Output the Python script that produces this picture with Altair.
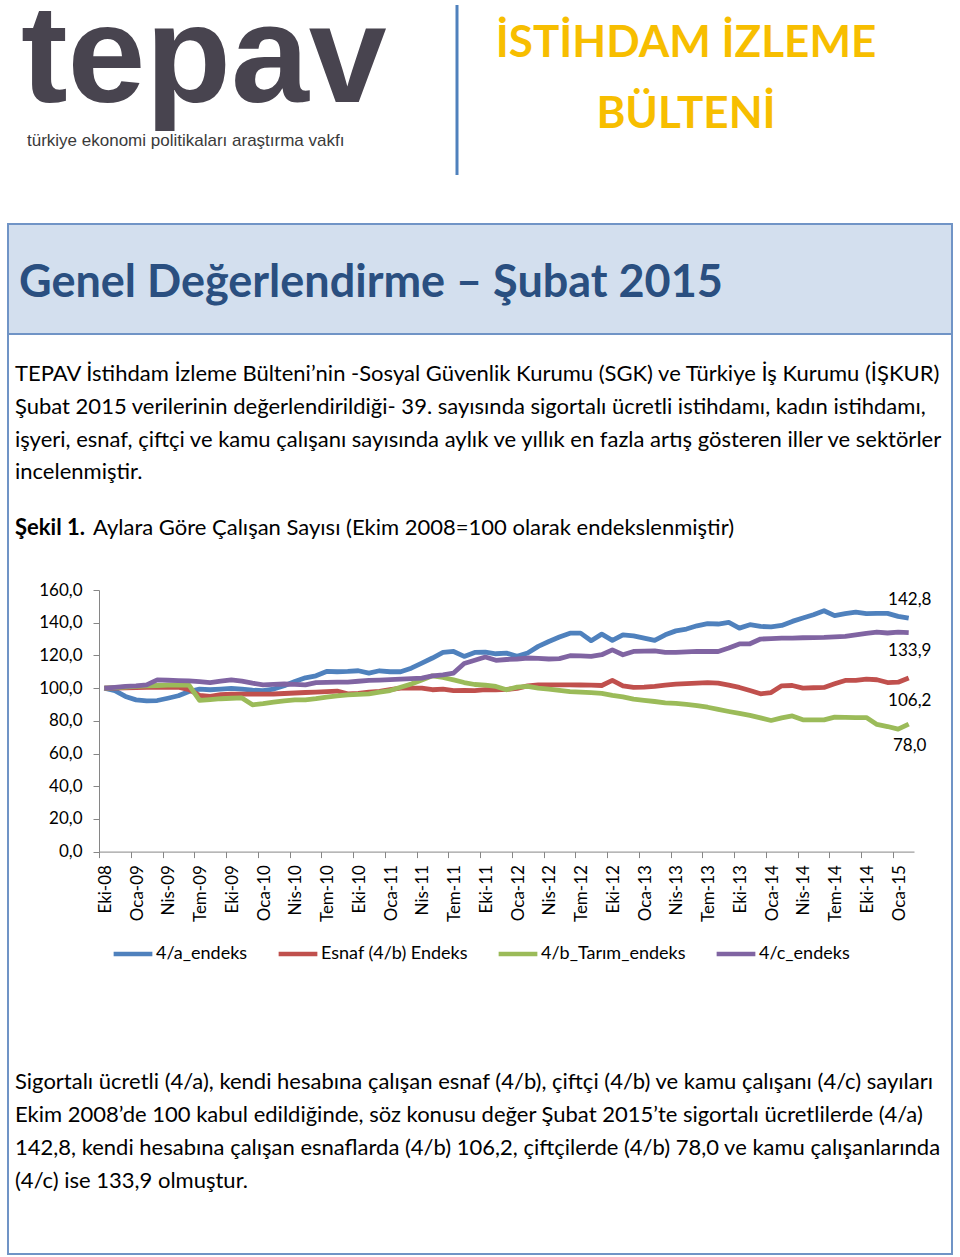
import altair as alt
import pandas as pd

# ---------------- data ----------------
months = (
    ["Eki-08", "Kas-08", "Ara-08"]
    + ["Oca-09", "Şub-09", "Mar-09", "Nis-09", "May-09", "Haz-09", "Tem-09", "Ağu-09", "Eyl-09", "Eki-09", "Kas-09", "Ara-09"]
    + ["Oca-10", "Şub-10", "Mar-10", "Nis-10", "May-10", "Haz-10", "Tem-10", "Ağu-10", "Eyl-10", "Eki-10", "Kas-10", "Ara-10"]
    + ["Oca-11", "Şub-11", "Mar-11", "Nis-11", "May-11", "Haz-11", "Tem-11", "Ağu-11", "Eyl-11", "Eki-11", "Kas-11", "Ara-11"]
    + ["Oca-12", "Şub-12", "Mar-12", "Nis-12", "May-12", "Haz-12", "Tem-12", "Ağu-12", "Eyl-12", "Eki-12", "Kas-12", "Ara-12"]
    + ["Oca-13", "Şub-13", "Mar-13", "Nis-13", "May-13", "Haz-13", "Tem-13", "Ağu-13", "Eyl-13", "Eki-13", "Kas-13", "Ara-13"]
    + ["Oca-14", "Şub-14", "Mar-14", "Nis-14", "May-14", "Haz-14", "Tem-14", "Ağu-14", "Eyl-14", "Eki-14", "Kas-14", "Ara-14"]
    + ["Oca-15", "Şub-15"]
)

series_names = ["4/a_endeks", "Esnaf (4/b) Endeks", "4/b_Tarım_endeks", "4/c_endeks"]
series_colors = ["#4F81BD", "#C0504D", "#9BBB59", "#8064A2"]

endeks_4a = [100, 98.5, 94.9, 92.8, 92.2, 92.4, 93.8, 95.3, 97.9, 99.4,
             99.0, 99.4, 99.8, 99.4, 98.7, 98.5, 99.4, 101.4, 104.0, 106.3,
             107.5, 110.2, 110.0, 110.2, 110.6, 109.2, 110.6, 110.0, 110.0, 112.2,
             115.3, 118.4, 121.8, 122.4, 119.4, 121.8, 122.0, 121.0, 121.4, 119.4,
             121.5, 125.5, 128.5, 131.2, 133.6, 133.6, 129.0, 133.0, 129.2, 132.6,
             132.0, 130.6, 129.2, 132.6, 135.0, 136.1, 138.1, 139.4, 139.2, 140.2,
             136.7, 138.8, 137.7, 137.5, 138.3, 140.8, 142.9, 144.9, 147.3, 144.3,
             145.5, 146.5, 145.5, 145.7, 145.7, 143.9, 142.8]

esnaf_4b = [100, 100, 100.2, 100.3, 100.4, 100.5, 100.5, 100.5, 99.0, 95.5,
            95.0, 96.0, 96.3, 96.3, 96.3, 96.3, 96.4, 96.7, 97.0, 97.3,
            97.5, 97.8, 98.2, 96.5, 96.7, 97.5, 98.0, 99.0, 100.0, 100.0,
            100.0, 99.0, 99.4, 98.4, 98.6, 98.4, 99.0, 99.0, 99.2, 99.8,
            101.4, 102.0, 102.0, 102.0, 102.0, 101.9, 101.8, 101.6, 104.7, 101.4,
            100.4, 100.6, 101.0, 101.8, 102.4, 102.7, 103.0, 103.4, 103.0, 101.8,
            100.4, 98.5, 96.5, 97.3, 101.4, 101.6, 100.0, 100.2, 100.4, 102.6,
            104.7, 104.7, 105.5, 105.1, 103.4, 103.6, 106.2]

tarim_4b = [100, 100.3, 100.6, 101.0, 101.4, 101.6, 101.8, 102.0, 101.8, 92.5,
            93.0, 93.5, 93.8, 94.0, 89.8, 90.5, 91.4, 92.2, 92.8, 92.8,
            93.5, 94.5, 95.3, 95.9, 96.2, 96.5, 97.5, 98.5, 100.5, 102.5,
            105.0, 107.5, 106.5, 105.0, 103.4, 102.2, 101.8, 101.0, 99.0, 100.6,
            101.0, 100.0, 99.4, 98.6, 97.9, 97.6, 97.2, 96.8, 95.5, 94.6,
            93.2, 92.5, 91.8, 91.0, 90.6, 90.0, 89.3, 88.3, 87.0, 85.7,
            84.5, 83.3, 81.8, 80.2, 81.8, 83.0, 80.6, 80.6, 80.6, 82.2,
            82.1, 82.0, 82.0, 77.8, 76.5, 74.9, 78.0]

endeks_4c = [100, 100.5, 101.0, 101.3, 102.0, 105.0, 104.8, 104.6, 104.4, 104.0,
             103.4, 104.2, 105.0, 104.2, 103.0, 102.0, 102.3, 102.5, 102.3, 102.0,
             103.4, 103.5, 103.6, 103.7, 104.2, 104.7, 104.9, 105.2, 105.5, 105.8,
             106.1, 107.5, 108.1, 109.2, 115.0, 117.0, 119.0, 117.0, 117.5, 117.8,
             118.4, 118.2, 117.8, 118.0, 119.8, 119.7, 119.4, 120.4, 123.4, 120.4,
             122.4, 122.6, 122.8, 121.8, 121.9, 122.2, 122.4, 122.4, 122.4, 124.5,
             127.0, 127.1, 130.0, 130.3, 130.6, 130.6, 130.8, 130.9, 131.0, 131.3,
             131.6, 132.5, 133.5, 134.3, 133.7, 134.2, 133.9]

y_ticks = [0, 20, 40, 60, 80, 100, 120, 140, 160]

# ---------------- table ----------------
rows = []
for name, vals in zip(series_names, [endeks_4a, esnaf_4b, tarim_4b, endeks_4c]):
    for i, v in enumerate(vals):
        rows.append({"i": i, "ay": months[i], "seri": name, "deger": v,
                     "etiket": f"{v:.1f}".replace(".", ",")})
df = pd.DataFrame(rows)
n = len(months)

W, H = 960, 1257
X0, X1 = 99, 914          # plot x extent (px)
Y0, Y1 = 851.6, 590       # y pixels of 0 and 160
half = (X1 - X0) / n / 2

FONT = "Lato"
month_js = "[" + ",".join(f"'{m}'" for m in months) + "]"

xscale = alt.Scale(domain=[-0.5, n - 0.5], range=[X0, X1], nice=False, zero=False)
yscale = alt.Scale(domain=[0, 160], range=[Y0, Y1], nice=False)

color = alt.Color(
    "seri:N",
    sort=series_names,
    scale=alt.Scale(domain=series_names, range=series_colors),
    legend=alt.Legend(
        title=None, orient="none", legendX=111, legendY=932, direction="horizontal",
        symbolType="stroke", symbolSize=1500, symbolStrokeWidth=4.5,
        labelFont=FONT, labelFontSize=18, labelColor="#000000",
        columnPadding=21, labelOffset=1, padding=0, labelLimit=300,
    ),
)

lines = alt.Chart(df).mark_line(strokeWidth=4.8, strokeJoin="round").encode(
    x=alt.X("i:Q", scale=xscale, axis=alt.Axis(
        title=None, values=list(range(0, n - 1, 3)), tickCount=200, grid=False,
        labelExpr=f"{month_js}[datum.value]", labelAngle=270,
        labelFont=FONT, labelFontSize=17, labelColor="#000000",
        tickOffset=-half, labelOffset=half + 1, tickSize=6, labelPadding=7,
        domainColor="#868686", tickColor="#868686", offset=-(H - Y0),
        labelOverlap=False, labelBound=False, labelFlush=False, zindex=1,
    )),
    y=alt.Y("deger:Q", scale=yscale, axis=alt.Axis(
        title=None, values=y_ticks, tickCount=200, grid=False,
        labelExpr="replace(format(datum.value, '.1f'), '.', ',')",
        labelFont=FONT, labelFontSize=17, labelColor="#000000",
        tickSize=6, labelPadding=11, domainColor="#868686", tickColor="#868686",
        offset=-X0, labelOverlap=False, labelBound=False, labelFlush=False, zindex=1,
    )),
    color=color,
    detail="seri:N",
)

# end-of-series value labels
label_dy = {"4/a_endeks": -18, "4/c_endeks": 18, "Esnaf (4/b) Endeks": 23, "4/b_Tarım_endeks": 22}
end_labels = []
for name in series_names:
    end_labels.append(
        alt.Chart(df).transform_filter(
            (alt.datum.seri == name) & (alt.datum.i == n - 1)
        ).mark_text(font=FONT, fontSize=17, color="#000000", align="center",
                    baseline="middle", dy=label_dy[name], dx=1).encode(
            x=alt.X("i:Q", scale=xscale), y=alt.Y("deger:Q", scale=yscale), text="etiket:N"
        )
    )

one = pd.DataFrame({"k": [1]})


def txt(s, x, y, size, font=FONT, weight="normal", color="#000000", align="left", baseline="alphabetic"):
    return alt.Chart(one).mark_text(
        text=s, font=font, fontSize=size, fontWeight=weight, color=color,
        align=align, baseline=baseline,
    ).encode(x=alt.value(x), y=alt.value(y))


BORDER = "#7094C6"

frame_title = alt.Chart(one).mark_rect(fill="#D3DFEE", stroke=BORDER, strokeWidth=2).encode(
    x=alt.value(8), x2=alt.value(952), y=alt.value(224), y2=alt.value(334))
frame_body = alt.Chart(one).mark_rect(filled=False, stroke=BORDER, strokeWidth=2).encode(
    x=alt.value(8), x2=alt.value(952), y=alt.value(334), y2=alt.value(1254))
vline = alt.Chart(one).mark_rule(color="#4F81BD", strokeWidth=3).encode(
    x=alt.value(457), y=alt.value(5), y2=alt.value(175))

BODY = 22
texts = [
    txt("tepav", 21, 102, 140, font="Liberation Sans", weight="bold", color="#48444F"),
    txt("türkiye ekonomi politikaları araştırma vakfı", 27, 146, 17, font="Liberation Sans", color="#3A3A3A"),
    txt("İSTİHDAM İZLEME", 686, 57, 44, weight="bold", color="#F7BE00", align="center"),
    txt("BÜLTENİ", 686, 128, 44, weight="bold", color="#F7BE00", align="center"),
    txt("Genel Değerlendirme – Şubat 2015", 19, 297, 45, weight="bold", color="#2A4F80"),
    txt("TEPAV İstihdam İzleme Bülteni’nin -Sosyal Güvenlik Kurumu (SGK) ve Türkiye İş Kurumu (İŞKUR)", 15, 381, BODY),
    txt("Şubat 2015 verilerinin değerlendirildiği- 39. sayısında sigortalı ücretli istihdamı, kadın istihdamı,", 15, 414, BODY),
    txt("işyeri, esnaf, çiftçi ve kamu çalışanı sayısında aylık ve yıllık en fazla artış gösteren iller ve sektörler", 15, 447, BODY),
    txt("incelenmiştir.", 15, 479, BODY),
    txt("Şekil 1.", 15, 535, BODY, weight="bold"),
    txt("Aylara Göre Çalışan Sayısı (Ekim 2008=100 olarak endekslenmiştir)", 93, 535, BODY),
    txt("Sigortalı ücretli (4/a), kendi hesabına çalışan esnaf (4/b), çiftçi (4/b) ve kamu çalışanı (4/c) sayıları", 15, 1089, BODY),
    txt("Ekim 2008’de 100 kabul edildiğinde, söz konusu değer Şubat 2015’te sigortalı ücretlilerde (4/a)", 15, 1122, BODY),
    txt("142,8, kendi hesabına çalışan esnaflarda (4/b) 106,2, çiftçilerde (4/b) 78,0 ve kamu çalışanlarında", 15, 1155, BODY),
    txt("(4/c) ise 133,9 olmuştur.", 15, 1188, BODY),
]

chart = alt.layer(
    frame_title, frame_body, vline, *texts, lines, *end_labels
).properties(
    width=W, height=H, padding=0, autosize=alt.AutoSizeParams(type="none"),
    background="#FFFFFF",
).configure_view(stroke=None)

chart.save("out.html", embed_options={"renderer": "svg", "actions": False})
